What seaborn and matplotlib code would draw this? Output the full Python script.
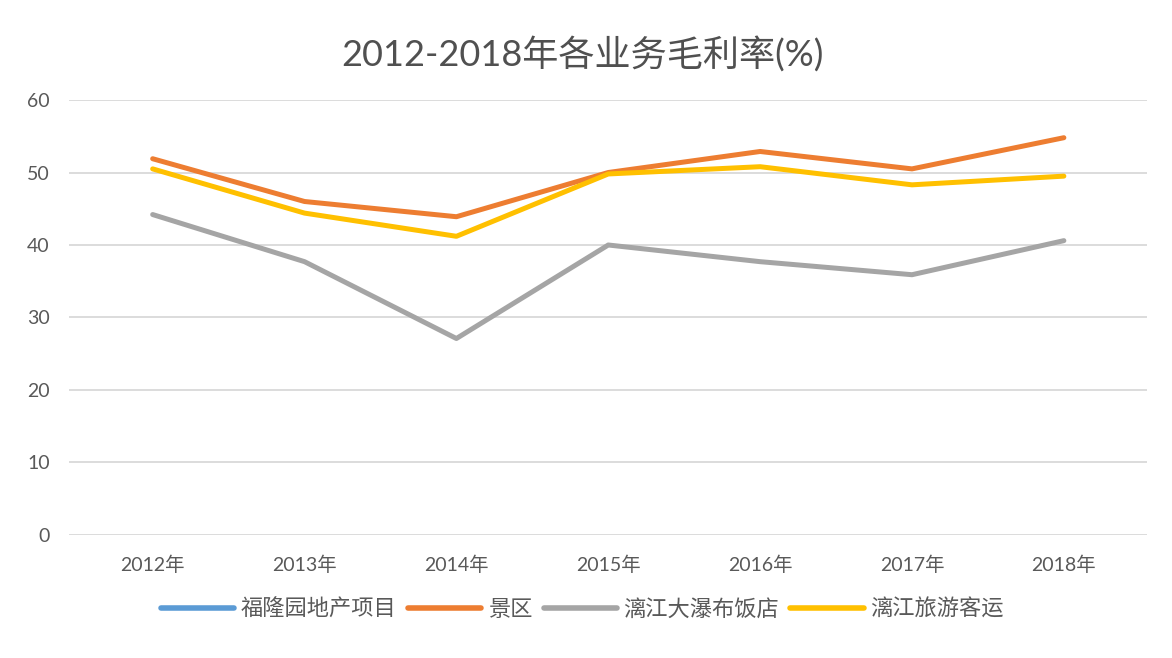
import matplotlib
matplotlib.use("Agg")
import matplotlib.pyplot as plt
import numpy as np
import pandas as pd
import seaborn as sns
from matplotlib.lines import Line2D

sns.set_theme(style="white")
plt.rcParams["font.family"] = ["Lato", "Noto Sans CJK SC", "DejaVu Sans"]

years = ["2012年", "2013年", "2014年", "2015年", "2016年", "2017年", "2018年"]
series_names = ["福隆园地产项目", "景区", "漓江大瀑布饭店", "漓江旅游客运"]
fulong = [np.nan] * 7  # no values shown in the chart
jingqu = [51.9, 46.0, 43.9, 50.0, 52.9, 50.5, 54.8]
fandian = [44.2, 37.7, 27.1, 40.0, 37.7, 35.9, 40.6]
keyun = [50.5, 44.4, 41.2, 49.8, 50.8, 48.3, 49.5]
y_ticks = [0, 10, 20, 30, 40, 50, 60]

colors = ["#5B9BD5", "#ED7D31", "#A5A5A5", "#FFC000"]
text_color = "#595959"

df = pd.DataFrame({"year": years, series_names[0]: fulong, series_names[1]: jingqu,
                   series_names[2]: fandian, series_names[3]: keyun})
long = df.melt(id_vars="year", var_name="series", value_name="value")
long["x"] = long["year"].map({y: i for i, y in enumerate(years)})

fig = plt.figure(figsize=(11.72, 6.58), dpi=100)
ax = fig.add_axes([0.059, 0.187, 0.92, 0.661])

for name, color in zip(series_names, colors):
    sub = long[long["series"] == name].dropna()
    if sub.empty:
        continue
    sns.lineplot(data=sub, x="x", y="value", color=color, linewidth=3.6,
                 ax=ax, legend=False, estimator=None)

ax.set_xlim(-0.55, 6.55)
ax.set_ylim(0, 60)
ax.set_yticks(y_ticks)
ax.set_xticks(range(len(years)))
ax.set_xticklabels(years)
ax.yaxis.grid(True, color="#D9D9D9", linewidth=1.3)
ax.set_axisbelow(True)
for s in ax.spines.values():
    s.set_visible(False)
ax.tick_params(axis="both", length=0, labelsize=14, colors=text_color)
ax.tick_params(axis="x", pad=15)
ax.tick_params(axis="y", pad=14)
ax.set_xlabel("")
ax.set_ylabel("")

fig.text(0.497, 0.918, "2012-2018年各业务毛利率(%)", ha="center", va="center",
         fontsize=26, color="#505050")

handles = [Line2D([], [], color=c, linewidth=4) for c in colors]
fig.legend(handles, series_names, loc="center", bbox_to_anchor=(0.497, 0.074),
           ncol=4, frameon=False, fontsize=16, handlelength=3.3,
           handletextpad=0.3, columnspacing=0.5, labelcolor=text_color)

fig.savefig("out.png", dpi=100)
